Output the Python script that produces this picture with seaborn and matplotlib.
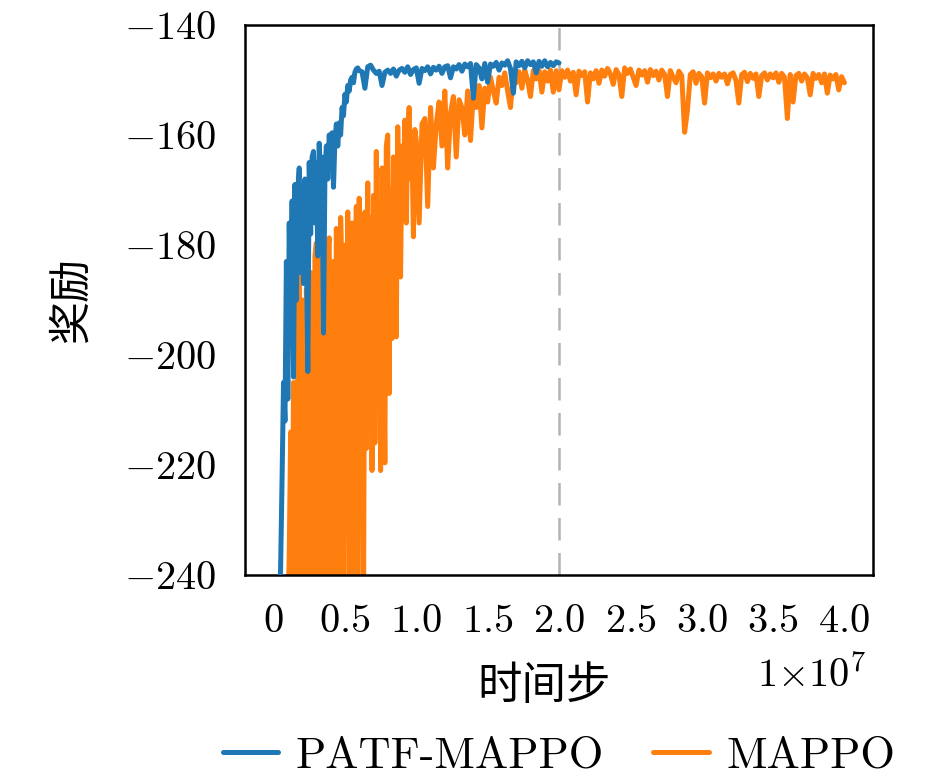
import numpy as np
import pandas as pd
import matplotlib
matplotlib.use("Agg")
import matplotlib.pyplot as plt
import seaborn as sns

# timesteps in units of 1e7; the noisy early part is read every 0.01e7,
# the rest every 0.02e7
patf_dense_start = 0.04
patf_sparse_start = 0.62
mappo_dense_start = 0.10
mappo_sparse_start = 1.02

patf_dense = [
    -250, -238, -222, -205, -212, -183, -208, -176, -196, -172,
    -204, -169, -190, -170, -166, -185, -171, -187, -168, -180,
    -203, -165, -178, -164, -163, -176, -165, -182, -161.5, -170,
    -164, -196, -167, -162, -168, -160, -163, -159.6, -169.5, -161,
    -158, -162, -157.8, -160, -155, -156.5, -152.6, -154, -151, -152,
    -150, -149.5, -150.5, -148.6, -148, -147.8, -148.3,
]
patf_sparse = [
    -148.5, -151.5, -147.6, -147.3, -148.2, -148.8, -148.4, -151, -148.6, -148.2,
    -148.8, -148.0, -149.3, -148.2, -147.9, -148.6, -147.6, -149.0, -148.1, -147.8,
    -150.6, -147.9, -148.3, -147.6, -148.9, -147.7, -148.2, -147.5, -148.8, -147.6,
    -147.4, -149.6, -147.6, -148.0, -147.2, -148.4, -147.1, -147.6, -147.0, -153.3,
    -147.2, -147.8, -149.8, -147.0, -150.4, -147.1, -147.5, -146.8, -148.2, -146.9,
    -147.3, -146.5, -147.9, -152.4, -146.7, -147.4, -146.6, -147.8, -146.5, -147.2,
    -146.7, -148.7, -146.6, -147.5, -146.5, -147.6, -146.8, -147.4, -146.7, -146.9,
]

mappo_dense = [
    -250, -236, -214, -250, -205, -228, -250, -196, -184, -250,
    -190, -215, -250, -188, -201, -250, -185, -207, -250, -182,
    -179.6, -250, -196, -176.7, -250, -189, -203, -250, -181, -178.7,
    -250, -193, -183, -250, -177, -199, -250, -175, -186, -250,
    -180, -212, -174, -250, -185, -176, -250, -191, -173, -250,
    -171.5, -206, -178, -250, -174, -217, -168.7, -213, -175, -221,
    -171, -216, -163, -208, -172, -221, -166, -195, -219.6, -162,
    -160, -207, -170, -197, -164, -180, -196.7, -158.5, -172, -185.8,
    -162, -170, -157.3, -176, -160, -155, -168, -162, -178.5, -159,
    -161,
]
mappo_sparse = [
    -176, -158, -157, -173,
    -155, -166, -158, -154, -162, -152, -166, -156, -153, -164,
    -153.6, -155, -160, -152, -161, -152.4, -155, -151, -158.7, -151.5,
    -154, -149.5, -152, -154.2, -149.5, -151, -148.7, -152, -155, -149,
    -150.5, -148.5, -151.5, -148.2, -150, -153, -148.3, -149.8, -148.2, -152.2,
    -148.5, -150.2, -148.2, -152.2, -148.3, -151.8, -148.3, -149.5, -148.2, -150.2,
    -148.6, -152.7, -148.4, -149.2, -148.5, -154, -148.7, -149.8, -148.3, -150.6,
    -148.2, -149.3, -147.9, -148.9, -150.8, -148.1, -149.0, -153, -147.8, -148.8,
    -148.0, -149.5, -151, -148.2, -149.1, -148.3, -150.4, -148.1, -149.2, -148.4,
    -150.0, -148.2, -149.0, -153, -148.3, -149.5, -150.5, -148.4, -149.2, -159.5,
    -155.5, -149.0, -148.5, -150.6, -148.8, -149.4, -154.2, -148.7, -149.6, -148.9,
    -150.2, -148.8, -149.5, -148.9, -150.7, -149.0, -148.7, -150.1, -154.2, -149.0,
    -148.6, -150.3, -148.8, -149.7, -148.9, -153, -149.2, -148.7, -150.0, -148.9,
    -149.6, -148.7, -150.4, -148.8, -149.5, -157, -149.0, -154, -149.2, -148.8,
    -150.2, -148.9, -149.6, -152.7, -148.8, -149.7, -149.0, -150.5, -148.9, -152.4,
    -149.1, -149.8, -149.0, -151.8, -149.4, -150.5,
]

series_names = ["PATF-MAPPO", "MAPPO"]
series_colors = ["#1f77b4", "#ff7f0e"]
xtick_values = [0, 0.5, 1.0, 1.5, 2.0, 2.5, 3.0, 3.5, 4.0]
xtick_labels = ["0", "0.5", "1.0", "1.5", "2.0", "2.5", "3.0", "3.5", "4.0"]
ytick_values = [-240, -220, -200, -180, -160, -140]


def make_curve(dense, dense_start, sparse, sparse_start):
    x = np.concatenate([dense_start + 0.01 * np.arange(len(dense)),
                        sparse_start + 0.02 * np.arange(len(sparse))])
    return pd.DataFrame({"step": x * 1e7, "reward": list(dense) + list(sparse)})


patf = make_curve(patf_dense, patf_dense_start, patf_sparse, patf_sparse_start)
mappo = make_curve(mappo_dense, mappo_dense_start, mappo_sparse, mappo_sparse_start)

sns.set_style("white")
plt.rcParams["mathtext.fontset"] = "cm"
plt.rcParams["font.family"] = ["cmr10", "Noto Sans CJK SC", "DejaVu Sans"]
plt.rcParams["axes.unicode_minus"] = False
plt.rcParams["text.color"] = "black"
plt.rcParams["axes.labelcolor"] = "black"

fig, ax = plt.subplots(figsize=(9.45, 7.79), dpi=100)
fig.subplots_adjust(left=245 / 945, right=873 / 945, top=1 - 25 / 779, bottom=1 - 575 / 779)

sns.lineplot(data=mappo, x="step", y="reward", color=series_colors[1], lw=3.6,
             estimator=None, sort=False, ax=ax, zorder=2)
sns.lineplot(data=patf, x="step", y="reward", color=series_colors[0], lw=3.6,
             estimator=None, sort=False, ax=ax, zorder=3)
ax.axvline(2e7, color="#a0a0a0", lw=1.8, ls=(0, (9, 5)), alpha=0.8, zorder=1)

ax.set_xlim(-0.2e7, 4.2e7)
ax.set_ylim(-240, -140)
ax.set_xticks([v * 1e7 for v in xtick_values])
ax.set_xticklabels([f"${t}$" for t in xtick_labels])
ax.set_yticks(ytick_values)
ax.set_yticklabels([f"${v}$" for v in ytick_values])
ax.tick_params(direction="in", length=8, width=1.8, labelsize=29, pad=21, colors="black")

for s in ax.spines.values():
    s.set_linewidth(1.8)
    s.set_color("black")

ax.set_xlabel("时间步", family=["Noto Sans CJK SC"], fontsize=32)
ax.set_ylabel("奖励", family=["Noto Sans CJK SC"], fontsize=31)
ax.xaxis.set_label_coords(0.476, -0.16)
ax.yaxis.set_label_coords(-0.24, 0.5)

fig.text(866 / 945, 1 - 675 / 779, r"$1{\times}10^{7}$", ha="right", va="center", fontsize=29)

handles = [plt.Line2D([], [], color=c, lw=3.6) for c in series_colors]
ax.legend(handles, series_names, loc="center", bbox_to_anchor=(0.5, -0.33), ncol=2,
          frameon=False, prop={"family": "cmr10", "size": 32},
          handlelength=1.25, handletextpad=0.4, columnspacing=1.1)

fig.savefig("out.png", dpi=100)
